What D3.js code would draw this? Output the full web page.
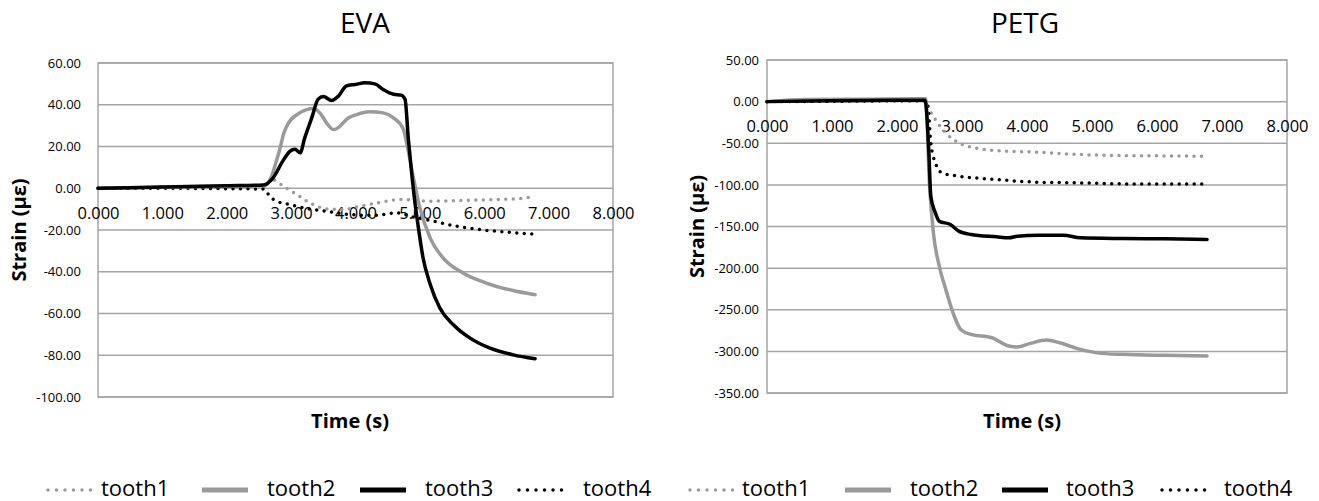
<!DOCTYPE html>
<html>
<head>
<meta charset="utf-8">
<script src="https://cdn.jsdelivr.net/npm/d3@7"></script>
<style>
    body { margin: 0; background: #fff; }
    svg text { font-family: "Open Sans", "DejaVu Sans", sans-serif; fill: #000; }
</style>
</head>
<body>
<div id="chart"></div>
<script>
// series names and time ticks
var seriesNames = ["tooth1", "tooth2", "tooth3", "tooth4"];
var timeTicks = [0, 1, 2, 3, 4, 5, 6, 7, 8];
var evaStrainTicks = [60, 40, 20, 0, -20, -40, -60, -80, -100];
var petgStrainTicks = [50, 0, -50, -100, -150, -200, -250, -300, -350];

// EVA, [time s, strain]
var evaTooth1 = [[0, 0], [1, 0.2], [2, 0.4], [2.58, 0.6], [2.7, 4.2], [2.88, 1], [3.09, -3], [3.29, -7],
    [3.55, -9.9], [3.81, -10.2], [4.07, -8.6], [4.38, -6.8], [4.69, -5.4], [5.16, -6.2], [5.67, -5.8],
    [6.19, -5.4], [6.55, -5], [6.73, -4.2]];
var evaTooth2 = [[0, 0], [1, 0.5], [2, 1], [2.58, 1.2], [2.7, 6], [2.77, 13], [2.83, 19.3], [2.88, 25.7],
    [2.96, 31.3], [3.09, 35.3], [3.24, 37.7], [3.34, 38.2], [3.45, 36], [3.55, 31.3], [3.66, 28.1],
    [3.76, 29.7], [3.86, 33], [4.02, 35.3], [4.22, 36.6], [4.43, 36.1], [4.59, 33.7], [4.74, 28.5],
    [4.82, 17.7], [4.9, 5], [5.0, -9.4], [5.16, -23.8], [5.36, -33.4], [5.67, -40.6], [6.03, -45.4],
    [6.45, -49], [6.79, -51]];
var evaTooth3 = [[0, 0], [1, 0.6], [2, 1.2], [2.57, 1.6], [2.72, 5], [2.87, 13], [2.98, 17.7], [3.06, 18.7],
    [3.14, 17], [3.21, 24], [3.32, 33.7], [3.42, 42.7], [3.5, 44], [3.63, 42], [3.73, 44], [3.86, 49],
    [3.99, 49.7], [4.15, 50.5], [4.3, 50], [4.43, 47.3], [4.59, 45], [4.71, 44.6], [4.77, 42.5],
    [4.82, 24], [4.87, 8], [4.92, -6], [4.97, -17.4], [5.05, -33.4], [5.16, -46], [5.31, -57.4],
    [5.52, -65.4], [5.78, -71.8], [6.09, -76.6], [6.45, -79.8], [6.79, -81.7]];
var evaTooth4 = [[0, 0], [1, 0], [2, -0.2], [2.58, -0.4], [2.67, -4], [2.77, -6.2], [2.98, -7.8],
    [3.24, -9.7], [3.55, -11], [3.91, -12.6], [4.27, -13], [4.48, -12.4], [4.63, -11.8], [4.9, -13.8],
    [5.21, -15.8], [5.57, -18.2], [5.93, -19.8], [6.34, -21], [6.76, -21.9]];

// PETG, [time s, strain]
var petgTooth1 = [[0, 0], [1, 0.5], [2, 1], [2.45, 1], [2.49, -7.6], [2.59, -21.6], [2.75, -37.6],
    [2.95, -49.6], [3.2, -55.6], [3.53, -58.8], [4.17, -60.8], [4.5, -62.4], [4.82, -63.6],
    [5.47, -64.8], [6.12, -65.2], [6.77, -65.6]];
var petgTooth2 = [[0, 0], [0.6, 2.5], [1.5, 3], [2.44, 3.5], [2.5, -100], [2.56, -157.6], [2.65, -197.6],
    [2.75, -225.6], [2.88, -257.6], [2.98, -273.6], [3.14, -279.6], [3.46, -283.6], [3.72, -293.6],
    [3.85, -294.8], [4.05, -290.4], [4.3, -286.4], [4.5, -289.6], [4.82, -297.6], [5.15, -302.4],
    [5.47, -303.6], [6.12, -304.8], [6.77, -305.6]];
var petgTooth3 = [[0, 0], [1, 1], [2, 1.6], [2.43, 1.6], [2.49, -60], [2.52, -113.6], [2.59, -133.6],
    [2.65, -143.6], [2.82, -147.6], [2.95, -155.6], [3.14, -159.6], [3.53, -162.4], [3.72, -163.6],
    [3.85, -161.6], [4.17, -160.4], [4.56, -160.4], [4.82, -163.6], [5.47, -164.4], [6.12, -164.8],
    [6.77, -165.6]];
var petgTooth4 = [[0, 0], [1, 0.5], [2, 1], [2.45, 1], [2.49, -17.6], [2.52, -49.6], [2.59, -73.6],
    [2.69, -85.6], [2.88, -88.8], [3.2, -91.6], [3.53, -93.6], [4.17, -96.8], [4.82, -97.6],
    [5.47, -98.8], [6.7, -98.8]];

var styles = [
    {color: "#9a9a9a", width: 3.5, dash: "0,7.5"},
    {color: "#9a9a9a", width: 3.5, dash: null},
    {color: "#000", width: 3.5, dash: null},
    {color: "#000", width: 3.5, dash: "0,7.5"}
];

var svg = d3.select("#chart").append("svg")
    .attr("width", 1319)
    .attr("height", 501);

var minus = function(s) { return s.replace("\u2212", "-"); };

function drawChart(opt) {
    var x = d3.scaleLinear().domain([0, 8]).range([opt.left, opt.right]);
    var y = d3.scaleLinear().domain(opt.yDomain).range([opt.bottom, opt.top]);
    var g = svg.append("g");

    // gridlines
    g.append("g").selectAll("line")
        .data(opt.yTicks)
        .enter().append("line")
        .attr("x1", opt.left).attr("x2", opt.right)
        .attr("y1", function(d) { return y(d); })
        .attr("y2", function(d) { return y(d); })
        .attr("stroke", "#a5a5a5")
        .attr("stroke-width", 1.5);

    g.append("rect")
        .attr("x", opt.left).attr("y", opt.top)
        .attr("width", opt.right - opt.left)
        .attr("height", opt.bottom - opt.top)
        .attr("fill", "none")
        .attr("stroke", "#a5a5a5")
        .attr("stroke-width", 1.5);

    var yAxis = d3.axisLeft(y).tickValues(opt.yTicks).tickSize(0).tickPadding(opt.yPad)
        .tickFormat(function(d) { return minus(d3.format(".2f")(d)); });
    var ya = g.append("g").attr("transform", "translate(" + opt.left + ",0)").call(yAxis);
    ya.select(".domain").remove();
    ya.selectAll("text").style("font-size", "13px").attr("font-family", null);

    var xAxis = d3.axisBottom(x).tickValues(timeTicks).tickSize(0).tickPadding(19)
        .tickFormat(d3.format(".3f"));
    var xa = g.append("g").attr("transform", "translate(0," + y(0) + ")").call(xAxis);
    xa.select(".domain").remove();
    xa.selectAll("text").style("font-size", "16.5px").attr("font-family", null);

    var line = d3.line()
        .x(function(d) { return x(d[0]); })
        .y(function(d) { return y(d[1]); })
        .curve(d3.curveMonotoneX);

    // draw in order so black lines sit over gray
    [0, 3, 1, 2].forEach(function(i) {
        g.append("path")
            .datum(opt.series[i])
            .attr("d", line)
            .attr("fill", "none")
            .attr("stroke", styles[i].color)
            .attr("stroke-width", styles[i].width)
            .attr("stroke-linecap", "round")
            .attr("stroke-linejoin", "round")
            .attr("stroke-dasharray", styles[i].dash);
    });

    g.append("text")
        .attr("x", opt.titleX).attr("y", 33)
        .attr("text-anchor", "middle")
        .style("font-size", "28px")
        .text(opt.title);

    g.append("text")
        .attr("x", opt.xTitleX).attr("y", 428)
        .attr("text-anchor", "middle")
        .style("font-size", "20px").style("font-weight", "bold")
        .text("Time (s)");

    g.append("text")
        .attr("transform", "translate(" + opt.yTitleX + "," + ((opt.top + opt.bottom) / 2) + ")rotate(-90)")
        .attr("text-anchor", "middle")
        .attr("dy", "0.35em")
        .style("font-size", "20px").style("font-weight", "bold")
        .text("Strain (με)");

    // legend
    var leg = g.append("g").selectAll("g")
        .data(seriesNames)
        .enter().append("g");
    leg.append("line")
        .attr("x1", function(d, i) { return opt.legendX[i]; })
        .attr("x2", function(d, i) { return opt.legendX[i] + 46; })
        .attr("y1", 490).attr("y2", 490)
        .attr("stroke", function(d, i) { return styles[i].color; })
        .attr("stroke-width", function(d, i) { return styles[i].dash ? 3.5 : 5; })
        .attr("stroke-linecap", function(d, i) { return styles[i].dash ? "round" : "butt"; })
        .attr("stroke-dasharray", function(d, i) { return styles[i].dash ? "0,8.5" : null; });
    leg.append("text")
        .attr("x", function(d, i) { return opt.legendTextX[i]; })
        .attr("y", 496)
        .style("font-size", "22px")
        .text(function(d) { return d; });
}

drawChart({
    title: "EVA", titleX: 365, xTitleX: 350, yTitleX: 19,
    left: 98, right: 613, top: 63, bottom: 397,
    yDomain: [-100, 60], yTicks: evaStrainTicks, yPad: 17,
    series: [evaTooth1, evaTooth2, evaTooth3, evaTooth4],
    legendX: [48, 202, 360, 519], legendTextX: [101, 267, 425, 583]
});

drawChart({
    title: "PETG", titleX: 1025, xTitleX: 1022, yTitleX: 697,
    left: 767, right: 1287, top: 60, bottom: 393,
    yDomain: [-350, 50], yTicks: petgStrainTicks, yPad: 8,
    series: [petgTooth1, petgTooth2, petgTooth3, petgTooth4],
    legendX: [690, 845, 1002, 1162], legendTextX: [742, 910, 1066, 1224]
});
</script>
</body>
</html>
